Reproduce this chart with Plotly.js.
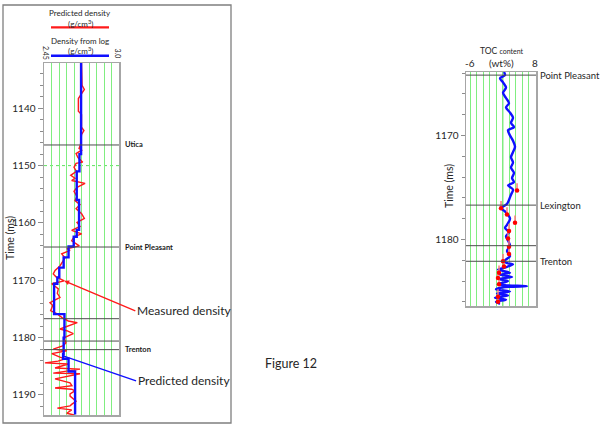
<!DOCTYPE html>
<html><head><meta charset="utf-8">
<script src="https://cdn.plot.ly/plotly-3.0.1.min.js"></script>
<style>html,body{margin:0;padding:0;background:#fff;}#chart{width:600px;height:428px;}</style>
</head><body><div id="chart"></div>
<script>
// ---- Left track: density (g/cm3) vs time (ms)
const predTime = [1132.1,1134.2,1136.0,1136.7,1137.4,1138.3,1140.5,1141.1,1143.3,1143.9,1144.6,1146.3,1147.0,1147.3,1147.9,1148.6,1149.4,1149.6,1150.3,1151.0,1151.7,1152.2,1152.6,1153.1,1153.8,1154.5,1155.4,1156.1,1156.8,1157.5,1158.4,1159.2,1159.9,1160.6,1161.3,1161.9,1162.4,1163.1,1164.0,1164.5,1164.8,1165.4,1166.1,1166.6,1167.5,1168.3,1168.9,1169.4,1170.1,1170.6,1171.5,1172.3,1173.0,1173.9,1174.4,1175.3,1175.8,1176.5,1177.1,1177.4,1177.9,1178.5,1178.8,1179.3,1180.0,1180.9,1181.4,1182.0,1182.3,1182.8,1183.4,1183.7,1184.1,1184.4,1184.6,1184.9,1185.3,1185.5,1185.8,1186.2,1186.3,1186.9,1187.2,1187.9,1188.4,1188.8,1189.0,1189.3,1189.8,1190.2,1190.7,1191.1,1191.6,1191.9,1192.3,1192.6,1193.2,1193.5];
const predDensity = [2.725,2.729,2.729,2.746,2.729,2.702,2.702,2.725,2.725,2.743,2.725,2.718,2.707,2.726,2.685,2.699,2.734,2.685,2.670,2.688,2.646,2.677,2.653,2.751,2.692,2.670,2.692,2.677,2.714,2.685,2.726,2.746,2.692,2.714,2.653,2.726,2.670,2.653,2.709,2.617,2.641,2.580,2.604,2.589,2.567,2.531,2.518,2.538,2.599,2.507,2.555,2.548,2.567,2.494,2.514,2.499,2.543,2.582,2.628,2.694,2.633,2.567,2.617,2.665,2.599,2.611,2.592,2.518,2.617,2.507,2.567,2.604,2.553,2.457,2.628,2.589,2.531,2.714,2.611,2.518,2.714,2.604,2.531,2.641,2.655,2.531,2.653,2.677,2.641,2.641,2.670,2.685,2.655,2.641,2.548,2.653,2.617,2.670];
const logTime = [1132.0,1148.0,1151.0,1156.0,1161.2,1162.4,1164.1,1166.0,1167.8,1169.5,1170.6,1175.9,1180.0,1182.9,1183.7,1185.9,1193.4];
const logDensity = [2.722,2.710,2.690,2.707,2.690,2.668,2.630,2.594,2.562,2.548,2.524,2.600,2.594,2.590,2.630,2.678,2.678];
const densityRange = [2.45, 3.0];
const densityTickLabels = ['2.45','3.0'];
const leftTopNames = ['Utica','Point Pleasant','','','Trenton'];
const leftTopTimes = [1146.4,1164.2,1176.7,1180.6,1182.1];
const leftDashedTime = 1150;

// ---- Right track: TOC (wt%) vs time (ms)
const tocTime = [1163.9,1164.2,1164.5,1164.9,1165.4,1165.9,1166.4,1166.9,1167.3,1167.8,1168.3,1168.8,1169.2,1169.5,1170.0,1170.5,1171.1,1171.6,1172.1,1172.6,1173.1,1173.6,1174.1,1174.5,1174.8,1175.2,1175.7,1176.2,1176.6,1177.0,1177.3,1178.0,1178.6,1178.9,1179.3,1179.7,1180.1,1180.6,1181.1,1181.6,1182.0,1182.1,1182.3,1182.4,1182.7,1182.9,1183.2,1183.4,1183.6,1183.8,1184.0,1184.3,1184.4,1184.5,1184.6,1184.8,1185.0,1185.2,1185.4,1185.6,1185.8,1186.0,1186.2];
const tocValue = [1.29,1.50,0.43,1.08,1.72,1.08,1.72,2.36,1.72,2.58,3.22,2.79,3.43,2.15,2.58,3.22,3.65,3.22,2.79,3.22,2.79,3.43,3.01,3.43,2.15,3.22,2.79,2.36,1.93,0.65,1.50,2.58,1.93,1.50,2.36,1.72,2.15,2.58,1.93,2.58,1.50,1.08,2.15,3.22,1.50,0.00,2.58,0.43,3.01,0.22,2.15,0.00,1.50,6.22,1.08,-0.43,2.58,-0.21,2.15,-0.64,1.72,-0.43,0.43];
const tocPredTime = [1175.3,1177.0,1177.6,1178.4,1179.2,1179.9,1180.7,1181.4,1182.1,1182.6,1183.2,1183.7,1184.3,1185.5,1186.0];
const tocPredValue = [4.08,0.65,1.93,3.65,2.36,2.15,2.36,2.36,1.08,1.29,0.22,0.00,0.22,0.00,0.00];
const tocRange = [-6, 8];
const tocTickLabels = ['-6','8'];
const rightTopNames = ['Point Pleasant','Lexington','','Trenton'];
const rightTopTimes = [1164.2,1176.7,1180.6,1182.1];

// ---- helpers (pixel -> paper)
const W = 600, H = 428;
const PX = p => p / W, PY = p => 1 - p / H;
const FONT = 'Lato, "Open Sans", sans-serif';
const GREEN = '#80ee80';
const TXT = '#262626';

const traces = [
  {x: predDensity, y: predTime, xaxis:'x', yaxis:'y', mode:'lines',
   line:{color:'#ff1a1a', width:1.4}, hoverinfo:'skip'},
  {x: logDensity, y: logTime, xaxis:'x', yaxis:'y', mode:'lines',
   line:{color:'#1010ff', width:2.4, shape:'vh'}, hoverinfo:'skip'},
  {x: tocValue, y: tocTime, xaxis:'x2', yaxis:'y2', mode:'lines',
   line:{color:'#1010ff', width:2.4, shape:'spline', smoothing:0.8}, hoverinfo:'skip'},
  {x: tocPredValue, y: tocPredTime, xaxis:'x2', yaxis:'y2', mode:'markers',
   marker:{color:'#ff0000', size:4.5},
   error_y:{type:'constant', symmetric:false, value:0, valueminus:0.7, color:'#ff7a7a', thickness:1.5, width:0},
   hoverinfo:'skip'}
];

// pixel geometry of the two tracks
const L = {x0:44, x1:119, y0:63, y1:415};
const R = {x0:466, x1:536, y0:72, y1:306};
// TOC axis: -6 at px 470, 8 at px 535.3
const tocPxPerUnit = (535.3 - 470) / (tocRange[1] - tocRange[0]);
const tocAxisRange = [tocRange[0] - (470 - R.x0) / tocPxPerUnit, tocRange[1] + (R.x1 - 535.3) / tocPxPerUnit];

const axisCommon = {showline:true, mirror:true, linecolor:'#a6a6a6', linewidth:1.5, zeroline:false, fixedrange:true};

const layout = {
  width: W, height: H, autosize:false,
  margin:{l:0,r:0,t:0,b:0,pad:0},
  paper_bgcolor:'#fff', plot_bgcolor:'#fff',
  showlegend:false,
  font:{family:FONT, color:TXT},
  xaxis: Object.assign({}, axisCommon, {
    domain:[PX(L.x0), PX(L.x1)], range:densityRange, anchor:'y',
    showgrid:true, gridcolor:GREEN, gridwidth:1, tick0:densityRange[0], dtick:(densityRange[1]-densityRange[0])/10,
    showticklabels:false, ticks:''}),
  yaxis: Object.assign({}, axisCommon, {
    domain:[PY(L.y1), PY(L.y0)], range:[1193.5, 1132.1], anchor:'x',
    showgrid:false, ticks:'outside', ticklen:5, tickcolor:'#8c8c8c', tickwidth:1,
    tick0:1140, dtick:10, tickfont:{size:10, family:FONT, color:TXT},
    minor:{dtick:2, ticklen:3, tickcolor:'#8c8c8c', ticks:'outside', showgrid:false}}),
  xaxis2: Object.assign({}, axisCommon, {
    domain:[PX(R.x0), PX(R.x1)], range:tocAxisRange, anchor:'y2',
    showgrid:true, gridcolor:GREEN, gridwidth:1, tick0:tocRange[0], dtick:(tocRange[1]-tocRange[0])/10,
    showticklabels:false, ticks:''}),
  yaxis2: Object.assign({}, axisCommon, {
    domain:[PY(R.y1), PY(R.y0)], range:[1186.4, 1163.9], anchor:'x2',
    showgrid:false, ticks:'outside', ticklen:4, tickcolor:'#8c8c8c', tickwidth:1,
    tick0:1170, dtick:10, tickfont:{size:10, family:FONT, color:TXT},
    minor:{dtick:2, ticklen:2.5, tickcolor:'#8c8c8c', ticks:'outside', showgrid:false}}),
  shapes: [],
  annotations: []
};

// frame around left figure
layout.shapes.push({type:'rect', xref:'paper', yref:'paper', x0:PX(3), x1:PX(231), y0:PY(423), y1:PY(5),
  line:{color:'#7f7f7f', width:1.3}, layer:'below'});
// legend sample lines
layout.shapes.push({type:'line', xref:'paper', yref:'paper', x0:PX(51), x1:PX(109), y0:PY(27.3), y1:PY(27.3), line:{color:'#ff1a1a', width:2.2}});
layout.shapes.push({type:'line', xref:'paper', yref:'paper', x0:PX(51), x1:PX(109), y0:PY(55.7), y1:PY(55.7), line:{color:'#1010ff', width:2.4}});
// dashed green line in left track
layout.shapes.push({type:'line', xref:'x domain', yref:'y', x0:0, x1:1, y0:leftDashedTime, y1:leftDashedTime,
  line:{color:'#5fe05f', width:1, dash:'dot'}, layer:'below'});
// darker middle grid line in TOC track
const tocMid = (tocRange[0] + tocRange[1]) / 2;
layout.shapes.push({type:'line', xref:'x2', yref:'y2 domain', x0:tocMid, x1:tocMid, y0:0, y1:1,
  line:{color:'#3fcf3f', width:1.3}, layer:'below'});
// formation tops
leftTopTimes.forEach((t,i)=>{
  layout.shapes.push({type:'line', xref:'x domain', yref:'y', x0:0, x1:1, y0:t, y1:t, line:{color:'#4d4d4d', width:1}});
  if (leftTopNames[i]) layout.annotations.push({xref:'x domain', yref:'y', x:1, y:t, xshift:4, xanchor:'left', yanchor:'middle',
    text:'<b>'+leftTopNames[i]+'</b>', showarrow:false, font:{size:7.5, family:FONT, color:'#1a1a1a'}});
});
rightTopTimes.forEach((t,i)=>{
  layout.shapes.push({type:'line', xref:'x2 domain', yref:'y2', x0:0, x1:1, y0:t, y1:t, line:{color:'#4d4d4d', width:1}});
  if (rightTopNames[i]) layout.annotations.push({xref:'x2 domain', yref:'y2', x:1, y:t, xshift:2, xanchor:'left', yanchor:'middle',
    text:rightTopNames[i], showarrow:false, font:{size:9.5, family:FONT, color:TXT}});
});

function txt(x, y, text, size, extra) {
  layout.annotations.push(Object.assign({xref:'paper', yref:'paper', x:PX(x), y:PY(y), xanchor:'center', yanchor:'middle',
    text:text, showarrow:false, font:{size:size, family:FONT, color:TXT}}, extra||{}));
}
// legend texts
txt(80, 13, 'Predicted density', 8);
txt(80, 23.5, '(g/cm<sup>3</sup>)', 8);
txt(80, 41, 'Density from log', 8);
txt(80, 50.5, '(g/cm<sup>3</sup>)', 8);
// rotated density limits
txt(45.5, 52.5, densityTickLabels[0], 7, {textangle:90});
txt(117.5, 53, densityTickLabels[1], 7, {textangle:90});
// axis titles
txt(10, 238, 'Time (ms)', 10.5, {textangle:-90});
txt(449, 186, 'Time (ms)', 10.5, {textangle:-90});
// TOC header
txt(501.5, 51, 'TOC <span style="font-size:7px">content</span>', 8.5);
txt(469.5, 62.5, tocTickLabels[0], 10);
txt(501.5, 62.5, '(wt%)', 10);
txt(534.5, 62.5, tocTickLabels[1], 10);
// figure label
txt(291, 363, 'Figure 12', 12.5);
// callouts
layout.annotations.push({xref:'x', yref:'y', x:predDensity[48], y:predTime[48], ax:71, ay:30,
  text:'Measured density', showarrow:true, arrowhead:2, arrowsize:0.7, arrowwidth:1.4, arrowcolor:'#ff1a1a',
  xanchor:'left', yanchor:'middle', font:{size:12, family:FONT, color:TXT}});
layout.annotations.push({xref:'x', yref:'y', x:logDensity[13], y:1183.2, ax:73, ay:25,
  text:'Predicted density', showarrow:true, arrowhead:0, arrowwidth:1.4, arrowcolor:'#1010ff',
  xanchor:'left', yanchor:'middle', font:{size:12, family:FONT, color:TXT}});

Plotly.newPlot('chart', traces, layout, {staticPlot:true, displayModeBar:false});
</script>
</body></html>
